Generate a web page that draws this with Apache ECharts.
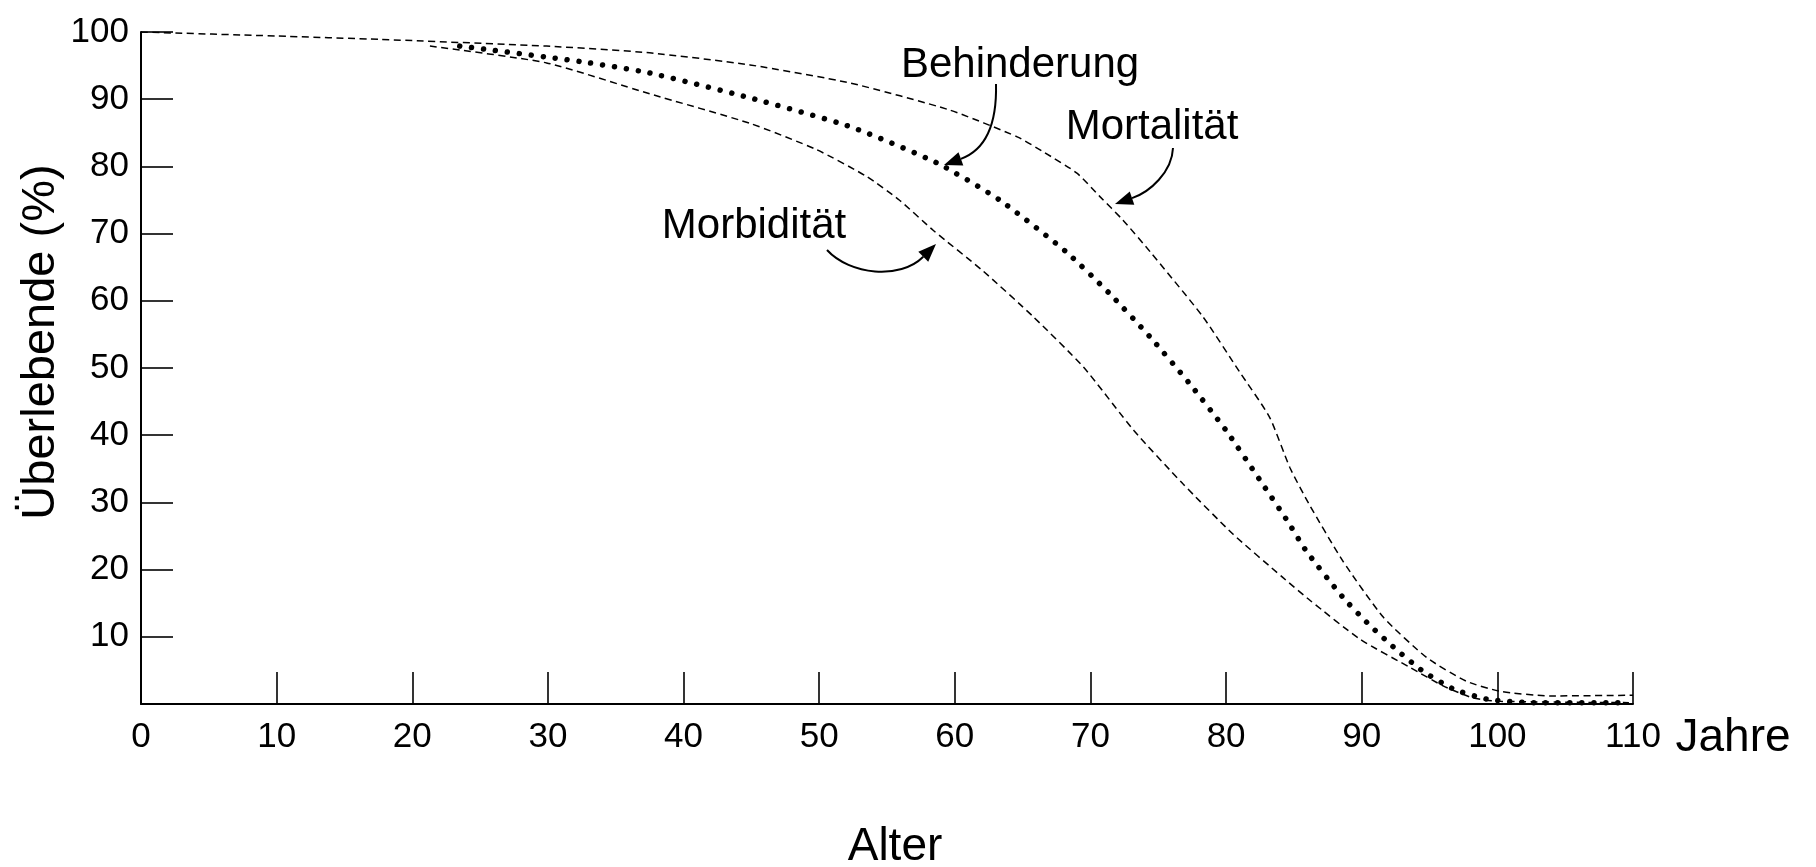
<!DOCTYPE html>
<html>
<head>
<meta charset="utf-8">
<title>Überlebende</title>
<script src="https://cdn.jsdelivr.net/npm/echarts@6/dist/echarts.min.js"></script>
<style>
    * {
        margin: 0;
        padding: 0;
    }
    body {
        background-color: #ffffff;
    }
    #chart {
        width: 1816px;
        height: 867px;
    }
</style>
</head>
<body>
<div id="chart"></div>
<script>
    // Alter (Jahre) und Überlebende (%) je Kurve
    var mortAge = [0, 10, 17.6, 29.9, 37.5, 44.9, 52.3, 59.6, 64.6, 66.5, 69.0, 70.7, 72.4, 74.4, 78.3, 81.0, 83.2, 84.7, 86.1, 88.6, 91.6, 94.8, 97.7, 100.2, 103.9, 110]
    var mortalitaet = [100, 99.4, 98.9, 97.9, 96.9, 95.1, 92.4, 88.4, 84.4, 82.2, 79.0, 75.5, 72.0, 67.3, 57.6, 49.4, 42.7, 35.2, 29.8, 21.3, 12.9, 6.9, 3.4, 1.9, 1.2, 1.3]

    var behAge = [23.5, 32.4, 37.5, 44.9, 52.3, 58.7, 63.3, 68.2, 71.4, 74.4, 77.3, 80.0, 82.5, 84.5, 85.9, 88.6, 90.5, 92.5, 94.5, 96.8, 99.3, 102.7, 109.1]
    var behinderung = [97.9, 95.6, 93.9, 90.2, 85.9, 80.5, 75.0, 67.3, 61.1, 54.6, 47.7, 40.7, 33.3, 27.3, 22.8, 15.9, 11.9, 8.2, 4.9, 2.2, 0.7, 0.2, 0.2]

    var morbAge = [21.3, 29.9, 37.5, 44.9, 49.8, 53.5, 55.9, 58.4, 62.1, 65.8, 69.5, 73.2, 76.8, 80.5, 84.2, 86.2, 89.9, 93.6, 96.0, 98.2, 100.2, 109.7]
    var morbiditaet = [97.9, 95.4, 90.8, 86.4, 82.5, 78.5, 75.0, 70.5, 64.4, 57.6, 50.1, 40.7, 32.8, 25.3, 18.8, 15.4, 9.6, 5.4, 2.7, 0.9, 0.4, 0.2]

    var FONT = 'Liberation Sans, Arial, Helvetica, sans-serif'

    function pairs(xs, ys) {
        var out = []
        for (var i = 0; i < xs.length; i++) {
            out.push([xs[i], ys[i]])
        }
        return out
    }

    function label(text, x, y, size, rot) {
        return {
            type: 'text',
            x: x,
            y: y,
            rotation: rot || 0,
            style: {
                text: text,
                fill: '#000',
                font: size + 'px ' + FONT,
                align: 'center',
                verticalAlign: 'middle'
            }
        }
    }

    // gebogener Pfeil: kubische Bezierkurve plus gefüllte Spitze
    function arrow(x1, y1, c1x, c1y, c2x, c2y, x2, y2) {
        var dx = x2 - c2x, dy = y2 - c2y
        var len = Math.sqrt(dx * dx + dy * dy)
        dx = dx / len
        dy = dy / len
        var hl = 18, hw = 7
        var bx = x2 - dx * hl, by = y2 - dy * hl
        return [{
            type: 'bezierCurve',
            shape: {x1: x1, y1: y1, cpx1: c1x, cpy1: c1y, cpx2: c2x, cpy2: c2y, x2: bx, y2: by},
            style: {stroke: '#000', lineWidth: 2, fill: null}
        }, {
            type: 'polygon',
            shape: {points: [[x2, y2], [bx - dy * hw, by + dx * hw], [bx + dy * hw, by - dx * hw]]},
            style: {fill: '#000'}
        }]
    }

    var chart = echarts.init(document.getElementById('chart'))

    var dashed = {color: '#000', width: 1.5, type: [7, 4.5]}

    var graphics = [
        label('Behinderung', 1020, 65, 42),
        label('Mortalität', 1152, 127, 42),
        label('Morbidität', 754, 226, 42),
        label('Jahre', 1733, 738, 46),
        label('Alter', 895, 847, 46),
        label('Überlebende (%)', 41, 342, 47, Math.PI / 2)
    ]
    graphics = graphics
        .concat(arrow(996, 84, 997, 125, 985, 150, 944, 165))
        .concat(arrow(1173, 148, 1172, 172, 1150, 192, 1115, 204))
        .concat(arrow(827, 250, 850, 275, 900, 280, 936, 244))

    var option = {
        animation: false,
        backgroundColor: '#fff',
        grid: {
            left: 141,
            right: 183,
            top: 32,
            bottom: 163,
            containLabel: false
        },
        xAxis: {
            type: 'value',
            min: 0,
            max: 110,
            interval: 10,
            axisLine: {lineStyle: {color: '#000', width: 2}},
            axisTick: {inside: true, length: 32, lineStyle: {color: '#000', width: 1.6}},
            axisLabel: {color: '#000', fontSize: 35, fontFamily: FONT, margin: 16},
            splitLine: {show: false}
        },
        yAxis: {
            type: 'value',
            min: 0,
            max: 100,
            interval: 10,
            axisLine: {show: true, lineStyle: {color: '#000', width: 2}},
            axisTick: {show: true, inside: true, length: 32, lineStyle: {color: '#000', width: 1.6}},
            axisLabel: {
                color: '#000', fontSize: 35, fontFamily: FONT, margin: 12,
                formatter: function (v) {
                    return v === 0 ? '' : v
                }
            },
            splitLine: {show: false}
        },
        series: [
            {
                name: 'Mortalität',
                type: 'line',
                data: pairs(mortAge, mortalitaet),
                symbol: 'none',
                smooth: 0.2,
                lineStyle: dashed
            },
            {
                name: 'Behinderung',
                type: 'line',
                data: pairs(behAge, behinderung),
                symbol: 'none',
                smooth: 0.2,
                lineStyle: {color: '#000', width: 5.5, type: [0.01, 12], cap: 'round'}
            },
            {
                name: 'Morbidität',
                type: 'line',
                data: pairs(morbAge, morbiditaet),
                symbol: 'none',
                smooth: 0.2,
                lineStyle: dashed
            }
        ],
        graphic: graphics
    }

    chart.setOption(option)
</script>
</body>
</html>
